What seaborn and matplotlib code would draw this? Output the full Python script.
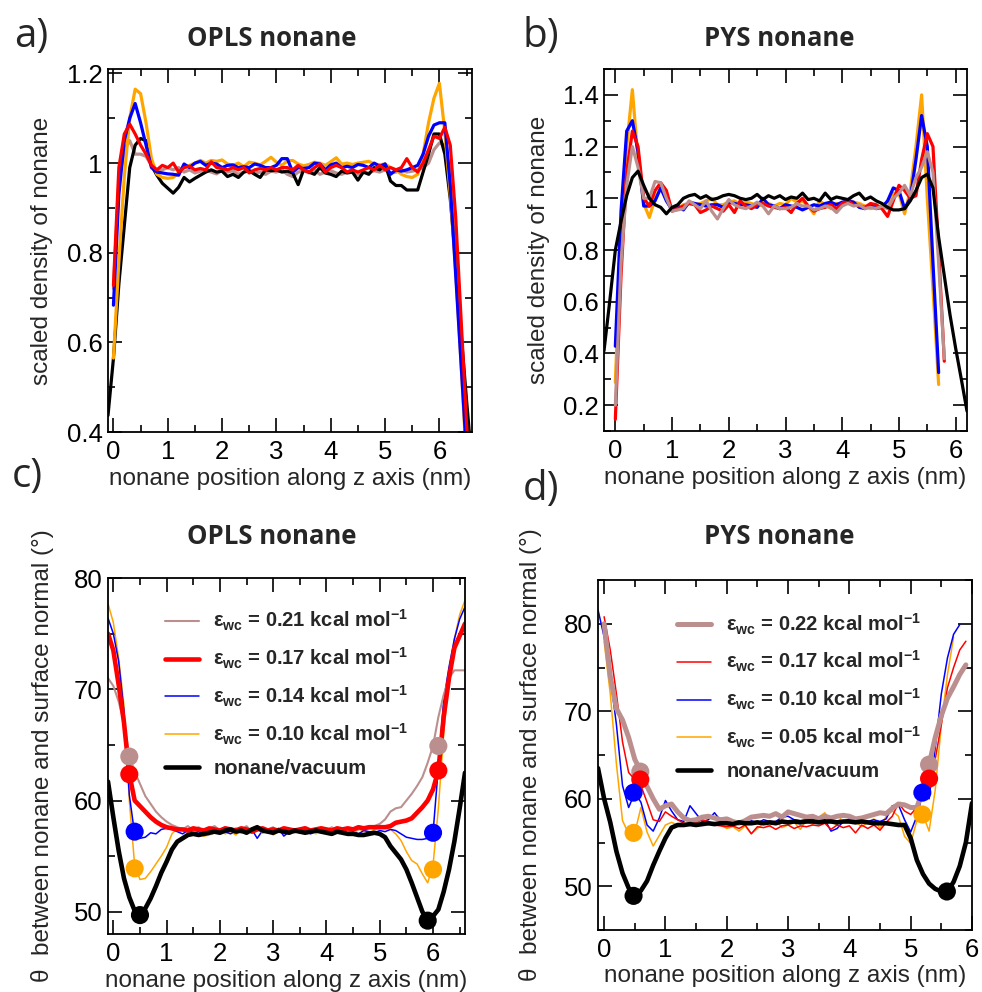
import numpy as np
import matplotlib
matplotlib.use("Agg")
import matplotlib.pyplot as plt
import seaborn as sns
from matplotlib.ticker import MultipleLocator, FuncFormatter
from matplotlib.lines import Line2D

# ---------------- data ----------------
# Panel a: OPLS nonane density
xa = np.round(np.arange(0.0, 6.65, 0.1), 2)
xa_black = np.round(np.arange(-0.1, 6.65, 0.1), 2)
a_orange = [0.565, 0.78, 0.97, 1.10, 1.165, 1.155, 1.09, 1.01, 0.975, 0.968, 0.966, 0.968, 0.978, 0.99, 0.995,
            1.0, 1.006, 1.0, 1.006, 1.004, 1.007, 0.998, 0.995, 1.0, 0.992, 1.002, 1.0, 0.996, 1.004, 1.013,
            1.002, 0.995, 1.005, 1.006, 0.998, 0.994, 0.997, 1.002, 1.0, 0.995, 1.003, 1.012, 0.998, 1.0, 0.997,
            1.0, 1.002, 1.004, 0.998, 0.996, 0.998, 0.99, 0.985, 0.975, 0.97, 0.968, 0.975, 1.02, 1.09, 1.145,
            1.178, 1.07, 0.93, 0.76, 0.55, 0.33, 0.2]
a_blue = [0.683, 0.93, 1.05, 1.10, 1.133, 1.09, 1.04, 0.99, 0.98, 0.978, 0.976, 0.975, 0.973, 0.998, 0.99,
          1.0, 1.004, 0.995, 1.0, 0.998, 0.99, 0.995, 0.996, 0.99, 0.992, 0.99, 0.998, 0.995, 0.99, 0.99,
          0.995, 1.01, 1.01, 0.98, 0.99, 0.988, 0.99, 1.0, 0.998, 0.985, 0.996, 1.0, 0.99, 0.993, 0.99,
          0.997, 0.995, 0.99, 1.0, 0.993, 0.998, 0.975, 0.985, 0.982, 0.985, 0.99, 0.995, 1.02, 1.06, 1.085,
          1.09, 1.09, 0.95, 0.75, 0.55, 0.35, 0.2]
a_red = [0.727, 0.99, 1.065, 1.087, 1.065, 1.04, 1.02, 0.995, 0.985, 0.995, 0.99, 1.0, 0.98, 0.99, 0.993,
         0.985, 0.988, 0.985, 1.003, 0.99, 0.988, 0.985, 0.99, 0.985, 0.99, 0.978, 0.985, 0.988, 0.985, 0.99,
         0.985, 0.99, 0.99, 0.985, 0.995, 0.985, 0.98, 0.99, 0.998, 0.98, 0.99, 0.995, 0.99, 0.98, 0.985,
         0.98, 0.985, 0.99, 0.985, 0.995, 0.985, 0.99, 0.985, 0.99, 1.01, 0.99, 0.98, 1.0, 1.03, 1.06,
         1.055, 1.08, 1.04, 0.88, 0.65, 0.42, 0.2]
a_rosy = [0.72, 0.96, 1.03, 1.05, 1.02, 1.02, 1.015, 0.995, 0.985, 0.985, 0.99, 0.985, 0.99, 0.98, 0.985,
          0.978, 0.982, 0.985, 0.98, 0.976, 0.985, 0.98, 0.983, 0.975, 0.98, 0.985, 0.978, 0.98, 0.975, 0.982,
          0.98, 0.985, 0.975, 0.97, 0.98, 0.983, 0.978, 0.985, 0.975, 0.98, 0.983, 0.978, 0.975, 0.98, 0.985,
          0.975, 0.98, 0.978, 0.983, 0.98, 0.985, 0.978, 0.98, 0.985, 0.98, 0.982, 0.985, 0.99, 1.0, 1.03,
          1.045, 1.04, 0.98, 0.85, 0.62, 0.4, 0.2]
a_black = [0.437, 0.564, 0.73, 0.86, 0.99, 1.04, 1.055, 1.05, 0.995, 0.973, 0.955, 0.944, 0.933, 0.946, 0.968,
           0.958, 0.966, 0.973, 0.98, 0.985, 0.98, 0.982, 0.97, 0.975, 0.968, 0.98, 0.983, 0.975, 0.968, 0.985,
           0.983, 0.985, 0.98, 0.982, 0.978, 0.952, 0.985, 0.98, 0.975, 0.99, 0.978, 0.975, 0.97, 0.982, 0.978,
           0.98, 0.962, 0.98, 0.975, 0.99, 0.985, 0.998, 0.96, 0.95, 0.95, 0.94, 0.94, 0.94, 0.98, 1.02,
           1.065, 1.065, 1.02, 0.92, 0.78, 0.62, 0.47, 0.33]

# Panel b: PYS nonane density
xb57 = np.round(np.arange(0.0, 5.75, 0.1), 2)
xb58 = np.round(np.arange(0.0, 5.85, 0.1), 2)
xb_black = np.round(np.arange(-0.2, 6.25, 0.1), 2)
b_orange = [0.288, 0.85, 1.2, 1.42, 1.15, 0.98, 0.926, 1.0, 1.04, 1.0, 0.955, 0.96, 0.975, 0.98, 0.975,
            0.98, 0.99, 1.0, 0.975, 0.975, 0.985, 0.99, 0.975, 0.985, 0.98, 0.97, 0.975, 0.98, 0.97, 0.98,
            0.975, 1.0, 0.985, 0.99, 0.97, 0.94, 0.99, 0.975, 0.96, 0.98, 0.975, 0.995, 0.985, 0.98, 0.97,
            0.96, 0.965, 0.97, 0.96, 1.02, 1.02, 0.94, 1.03, 1.2, 1.40, 1.0, 0.65, 0.28]
b_blue = [0.428, 0.95, 1.26, 1.30, 1.18, 0.97, 0.97, 0.99, 1.04, 0.99, 0.955, 0.97, 0.955, 0.985, 0.98,
          0.975, 0.97, 0.975, 0.975, 0.965, 0.985, 0.98, 0.975, 0.975, 0.97, 0.965, 1.0, 0.975, 0.97, 0.96,
          0.975, 0.97, 0.965, 0.955, 0.965, 0.975, 0.97, 0.98, 0.985, 0.975, 0.985, 0.99, 0.985, 0.965, 0.96,
          0.975, 0.96, 0.965, 0.99, 1.04, 1.03, 0.96, 1.0, 1.15, 1.32, 1.2, 0.75, 0.326]
b_red = [0.145, 0.7, 1.1, 1.26, 1.2, 1.0, 0.97, 1.03, 1.06, 1.03, 0.95, 0.96, 0.97, 0.98, 0.975,
         0.945, 0.955, 0.97, 0.96, 0.95, 0.975, 0.945, 0.99, 0.97, 0.96, 0.975, 0.98, 0.97, 0.965, 0.96,
         0.965, 0.945, 0.98, 1.0, 0.97, 0.95, 0.96, 0.965, 0.975, 0.96, 0.98, 0.99, 0.975, 0.97, 0.965,
         0.98, 0.975, 0.96, 0.93, 0.99, 1.05, 1.03, 1.0, 1.01, 1.15, 1.25, 1.2, 0.8, 0.37]
b_rosy = [0.2, 0.75, 1.05, 1.2, 1.12, 1.0, 1.0, 1.065, 1.06, 1.0, 0.95, 0.955, 0.96, 0.99, 0.975,
          0.96, 0.99, 0.95, 0.92, 0.96, 0.995, 0.975, 0.965, 0.96, 0.97, 0.985, 0.97, 0.94, 0.97, 0.96,
          0.96, 0.965, 0.98, 0.97, 0.97, 0.955, 0.96, 0.97, 0.965, 0.945, 0.97, 0.98, 0.97, 0.975, 0.96,
          0.965, 0.96, 0.97, 0.96, 1.0, 1.02, 1.05, 1.01, 1.08, 1.12, 1.18, 1.1, 0.75, 0.38]
b_black = [0.41, 0.6, 0.80, 0.91, 1.01, 1.08, 1.105, 1.05, 1.0, 0.975, 0.965, 0.94, 0.965, 0.975, 1.0,
           1.01, 1.015, 1.0, 1.01, 0.995, 1.0, 1.01, 1.015, 1.01, 1.0, 0.995, 1.0, 1.015, 0.995, 1.01,
           1.0, 1.01, 0.995, 1.005, 1.0, 1.02, 0.995, 1.0, 0.99, 1.02, 0.995, 1.005, 1.0, 0.995, 1.01,
           1.02, 0.995, 1.005, 0.99, 0.98, 0.965, 0.955, 0.955, 0.96, 0.99, 1.03, 1.08, 1.093, 1.04, 0.85,
           0.7, 0.55, 0.42, 0.3, 0.177]

# Panel c: OPLS nonane orientation
xc = np.round(np.arange(-0.1, 6.65, 0.1), 2)
c_black = [61.7, 58.5, 55.5, 53.0, 51.3, 50.1, 49.7, 50.3, 51.2, 52.3, 53.5, 54.5, 55.6, 56.3, 56.6,
           56.9, 57.0, 56.9, 57.0, 57.1, 57.2, 57.1, 57.3, 57.4, 57.2, 57.3, 57.1, 57.4, 57.6, 57.3,
           57.2, 57.1, 57.3, 57.2, 57.1, 57.3, 57.2, 57.1, 57.2, 57.3, 57.2, 57.1, 57.0, 57.2, 57.1,
           57.0, 57.0, 56.9, 56.9, 57.0, 57.1, 57.0, 56.7, 55.9, 55.3, 54.7, 53.8, 52.6, 51.3, 50.0,
           49.2, 49.6, 50.2, 51.8, 53.8, 56.3, 59.3, 62.5]
c_orange = [77.7, 76.0, 72.8, 68.5, 60.0, 54.2, 52.9, 53.0, 53.6, 54.3, 55.0, 55.8, 57.0, 57.5, 57.4,
            57.3, 57.2, 57.0, 56.8, 56.9, 57.1, 57.3, 57.0, 57.2, 56.9, 57.4, 57.1, 57.3, 57.5, 57.1,
            57.2, 56.9, 57.3, 57.4, 57.0, 57.2, 57.5, 57.1, 57.3, 57.0, 57.6, 57.2, 57.4, 57.1, 57.3,
            57.5, 57.2, 57.4, 57.3, 57.1, 57.4, 57.5, 57.5, 57.4, 57.0, 56.4, 55.4, 54.6, 54.3, 53.4,
            52.6, 54.2, 59.3, 66.0, 71.3, 74.5, 76.7, 78.0]
c_blue = [76.4, 75.0, 72.5, 68.0, 60.5, 57.0, 56.6, 56.7, 57.1, 57.0, 57.4, 57.5, 57.4, 57.2, 57.0,
          57.3, 57.1, 57.2, 57.0, 57.3, 57.1, 57.4, 57.2, 57.0, 57.3, 57.1, 57.2, 57.4, 56.6, 57.3,
          57.2, 57.0, 57.5, 56.8, 57.2, 57.4, 57.1, 57.3, 57.0, 57.2, 57.4, 57.1, 57.3, 57.2, 57.1,
          57.4, 57.2, 57.0, 57.3, 57.2, 57.1, 57.3, 57.2, 57.4, 57.3, 57.0, 56.7, 56.6, 56.5, 56.5,
          56.6, 57.1, 63.0, 69.0, 72.0, 74.5, 76.3, 77.4]
c_red = [75.0, 73.5, 70.4, 67.0, 62.4, 60.0, 59.5, 59.0, 58.5, 58.1, 57.8, 57.6, 57.5, 57.4, 57.4,
         57.3, 57.5, 57.4, 57.3, 57.5, 57.4, 57.3, 57.5, 57.4, 57.3, 57.5, 57.4, 57.2, 57.4, 57.5,
         57.3, 57.4, 57.3, 57.5, 57.4, 57.3, 57.4, 57.5, 57.3, 57.4, 57.5, 57.4, 57.3, 57.5, 57.4,
         57.5, 57.4, 57.6, 57.5, 57.6, 57.6, 57.6, 57.6, 57.7, 58.0, 58.1, 58.2, 58.4, 58.9, 59.4,
         60.0, 61.0, 62.7, 67.5, 71.0, 73.7, 74.8, 75.9]
c_rosy = [71.0, 70.3, 68.9, 67.0, 64.0, 62.6, 61.5, 60.4, 59.7, 59.0, 58.5, 58.1, 57.8, 57.6, 57.4,
          57.7, 57.3, 57.6, 57.2, 57.5, 57.7, 57.3, 57.6, 57.2, 57.5, 57.3, 57.7, 57.2, 57.5, 57.1,
          57.4, 57.6, 57.2, 57.5, 57.3, 57.1, 57.4, 57.6, 57.3, 57.2, 57.5, 57.3, 57.6, 57.2, 57.4,
          57.3, 57.1, 57.4, 57.6, 57.5, 57.7, 57.9, 58.3, 59.0, 59.3, 59.4, 60.0, 60.6, 61.3, 62.1,
          63.4, 64.9, 67.5, 69.5, 71.0, 71.7, 71.7, 71.7]
c_marker_x = [0.3, 6.1, 0.3, 6.1, 0.4, 6.0, 0.4, 6.0, 0.5, 5.9]
c_marker_y = [63.95, 64.9, 62.36, 62.7, 57.2, 57.1, 53.9, 53.8, 49.7, 49.2]

# Panel d: PYS nonane orientation
xd_black = np.round(np.arange(-0.1, 6.05, 0.1), 2)
xd_blue = np.round(np.arange(-0.1, 5.85, 0.1), 2)
xd_orange = np.round(np.arange(0.0, 5.75, 0.1), 2)
xd59 = np.round(np.arange(0.0, 5.95, 0.1), 2)
d_black = [63.5, 60.0, 57.3, 54.0, 51.5, 49.8, 48.9, 49.5, 50.6, 52.4, 54.0, 55.5, 56.7, 57.0, 57.0,
           57.1, 57.0, 57.1, 57.2, 57.1, 57.2, 57.2, 57.1, 57.3, 57.2, 57.2, 57.3, 57.2, 57.3, 57.2,
           57.4, 57.3, 57.4, 57.3, 57.4, 57.4, 57.3, 57.4, 57.4, 57.3, 57.4, 57.4, 57.3, 57.4, 57.3,
           57.2, 57.2, 57.2, 57.1, 57.0, 57.0, 55.5, 53.0, 51.4, 50.3, 49.7, 49.4, 49.4, 50.5, 52.3,
           55.0, 59.5]
d_orange = [78.0, 72.0, 64.0, 57.5, 56.0, 56.1, 59.0, 56.2, 54.6, 55.8, 57.0, 57.3, 57.0, 57.2, 57.0,
            57.3, 57.4, 57.0, 57.3, 57.0, 56.6, 56.8, 56.3, 56.9, 56.0, 56.6, 57.2, 56.9, 57.5, 56.7,
            57.0, 57.3, 56.5, 57.6, 57.0, 57.9, 58.4, 57.4, 57.0, 58.3, 58.0, 57.4, 56.8, 57.3, 57.7,
            56.6, 58.0, 58.6, 58.0, 55.7, 54.9, 57.5, 58.2, 56.3, 61.0, 68.5, 74.2, 78.5]
d_blue = [81.6, 78.5, 74.0, 68.5, 61.5, 59.0, 60.7, 59.6, 57.0, 56.3, 57.8, 59.8, 58.6, 57.6, 57.4,
          59.2, 58.3, 57.4, 57.6, 58.4, 57.5, 57.7, 57.3, 57.3, 57.0, 57.5, 57.2, 57.6, 57.4, 57.4,
          57.9, 58.0, 57.6, 57.5, 57.6, 57.7, 57.5, 57.6, 56.3, 56.6, 57.4, 57.7, 57.8, 57.3, 57.4,
          57.6, 57.4, 57.7, 59.2, 59.3, 57.6, 56.2, 58.0, 60.7, 60.0, 65.8, 72.0, 76.1, 78.8, 79.9]
d_red = [80.8, 77.0, 72.0, 66.5, 63.0, 62.2, 61.5, 59.6, 57.6, 57.4, 58.5, 58.0, 57.6, 57.2, 57.0,
         57.3, 57.6, 57.4, 57.0, 56.9, 56.8, 56.9, 56.6, 57.0, 56.0, 56.8, 56.7, 56.9, 56.5, 56.9,
         57.0, 56.6, 56.9, 56.8, 57.0, 56.9, 57.2, 56.5, 57.0, 56.7, 56.9, 56.1, 57.0, 56.6, 57.0,
         56.4, 57.3, 58.0, 59.5, 58.6, 58.2, 59.0, 61.0, 62.3, 64.5, 68.5, 72.7, 75.0, 77.0, 78.0]
d_rosy = [80.0, 74.0, 70.3, 69.0, 67.0, 64.5, 63.1, 61.4, 60.0, 58.8, 59.2, 59.4, 58.5, 57.8, 57.5,
          57.6, 57.9, 58.0, 57.8, 57.6, 57.7, 57.4, 57.2, 57.5, 57.9, 58.0, 58.1, 58.0, 58.3, 57.9,
          58.5, 58.3, 58.1, 57.9, 58.0, 57.7, 58.0, 57.8, 58.0, 58.1, 58.0, 57.7, 57.8, 58.0, 58.2,
          58.4, 58.3, 58.9, 59.4, 59.3, 59.0, 59.0, 61.0, 63.9, 67.0, 69.5, 71.5, 72.8, 74.2, 75.3]
d_marker_x = [0.59, 5.3, 0.59, 5.3, 0.48, 5.19, 0.48, 5.19, 0.48, 5.59]
d_marker_y = [63.1, 63.9, 62.2, 62.3, 60.7, 60.7, 56.1, 58.2, 48.9, 49.4]
marker_colors = ["rosybrown", "rosybrown", "red", "red", "blue", "blue", "orange", "orange", "black", "black"]

labels_c = ["0.21", "0.17", "0.14", "0.10"]
labels_d = ["0.22", "0.17", "0.10", "0.05"]

# ---------------- style ----------------
sns.set_style("ticks")
plt.rcParams["font.family"] = ["Liberation Sans", "DejaVu Sans"]
plt.rcParams["mathtext.fontset"] = "custom"
plt.rcParams["mathtext.rm"] = "Liberation Sans"
plt.rcParams["mathtext.bf"] = "Liberation Sans:bold"
plt.rcParams["mathtext.it"] = "Liberation Sans:italic"

W, H = 982, 992
fig = plt.figure(figsize=(W / 100, H / 100), dpi=100)


def px_axes(l, t, r, b):
    return fig.add_axes([l / W, 1 - b / H, (r - l) / W, (b - t) / H])


axa = px_axes(108, 69, 472, 432)
axb = px_axes(604, 69, 967, 431)
axc = px_axes(108, 578, 465, 934)
axd = px_axes(598, 580, 972, 930)

TICK_FS = 18.5
LAB_FS = 17.5


def style(ax, xlim, ylim, ymaj, ymin_):
    ax.set_xlim(*xlim)
    ax.set_ylim(*ylim)
    ax.xaxis.set_major_locator(MultipleLocator(1))
    ax.xaxis.set_minor_locator(MultipleLocator(0.5))
    ax.yaxis.set_major_locator(MultipleLocator(ymaj))
    ax.yaxis.set_minor_locator(MultipleLocator(ymin_))
    ax.yaxis.set_major_formatter(FuncFormatter(lambda v, p: f"{v:g}"))
    ax.tick_params(which="both", direction="in", top=True, right=True, width=1.2, colors="black")
    ax.tick_params(which="major", length=10)
    ax.tick_params(which="minor", length=5)
    ax.tick_params(axis="x", which="major", labelsize=TICK_FS, pad=6)
    ax.tick_params(axis="y", which="major", labelsize=TICK_FS, pad=4)
    for s in ax.spines.values():
        s.set_linewidth(1.3)
        s.set_color("black")
        s.set_visible(True)
    ax.set_xlabel("nonane position along z axis (nm)", fontsize=LAB_FS)
    ax.xaxis.set_label_coords(0.5, -0.10)
    ax.xaxis.label.set_va("top")


def line(ax, x, y, color, lw):
    sns.lineplot(x=x, y=y, color=color, linewidth=lw, ax=ax, legend=False)


# panel a
LW = 2.3
line(axa, xa, a_rosy, "rosybrown", LW)
line(axa, xa_black, a_black, "black", LW)
line(axa, xa, a_orange, "orange", LW)
line(axa, xa, a_blue, "blue", LW)
line(axa, xa, a_red, "red", LW)
style(axa, (-0.1, 6.6), (0.4, 1.21), 0.2, 0.1)
axa.set_ylabel("scaled density of nonane", fontsize=LAB_FS)
axa.yaxis.set_label_coords(-0.15, 0.5)

# panel b
line(axb, xb57, b_orange, "orange", LW)
line(axb, xb57, b_blue, "blue", LW)
line(axb, xb58, b_red, "red", LW)
line(axb, xb58, b_rosy, "rosybrown", LW)
line(axb, xb_black, b_black, "black", LW)
style(axb, (-0.2, 6.2), (0.1, 1.5), 0.2, 0.1)
axb.set_ylabel("scaled density of nonane", fontsize=LAB_FS)
axb.yaxis.set_label_coords(-0.15, 0.5)

# panel c
THIN, THICK = 1.1, 3.3
line(axc, xc, c_orange, "orange", THIN)
line(axc, xc, c_blue, "blue", THIN)
line(axc, xc, c_rosy, "rosybrown", 1.5)
line(axc, xc, c_red, "red", THICK)
line(axc, xc, c_black, "black", THICK)
sns.scatterplot(x=c_marker_x, y=c_marker_y, hue=list(range(10)), palette=marker_colors, s=170,
                edgecolor="none", ax=axc, legend=False, zorder=10)
style(axc, (-0.1, 6.6), (48, 80), 10, 5)
axc.set_ylabel("θ  between nonane and surface normal (°)", fontsize=LAB_FS)
axc.yaxis.set_label_coords(-0.15, 0.5)

# panel d
line(axd, xd_orange, d_orange, "orange", THIN)
line(axd, xd_blue, d_blue, "blue", THIN)
line(axd, xd59, d_red, "red", THIN)
line(axd, xd59, d_rosy, "rosybrown", 3.6)
line(axd, xd_black, d_black, "black", THICK)
sns.scatterplot(x=d_marker_x, y=d_marker_y, hue=list(range(10)), palette=marker_colors, s=170,
                edgecolor="none", ax=axd, legend=False, zorder=10)
style(axd, (-0.1, 6.0), (45, 85), 10, 5)
axd.set_ylabel("θ  between nonane and surface normal (°)", fontsize=LAB_FS)
axd.yaxis.set_label_coords(-0.15, 0.5)


# legends
def eps_label(v):
    return "ε$_{\\mathbf{wc}}$ = " + v + " kcal mol$^{\\mathbf{-1}}$"


hc = [Line2D([], [], color="rosybrown", lw=1.5), Line2D([], [], color="red", lw=THICK),
      Line2D([], [], color="blue", lw=THIN), Line2D([], [], color="orange", lw=THIN),
      Line2D([], [], color="black", lw=THICK)]
lc = [eps_label(v) for v in labels_c] + ["nonane/vacuum"]
axc.legend(hc, lc, loc="upper left", bbox_to_anchor=(0.16, 0.915), frameon=False,
           prop={"weight": "bold", "size": 14.5}, handlelength=1.7, handletextpad=0.7,
           labelspacing=0.62, borderpad=0, borderaxespad=0)

hd = [Line2D([], [], color="rosybrown", lw=3.6), Line2D([], [], color="red", lw=THIN),
      Line2D([], [], color="blue", lw=THIN), Line2D([], [], color="orange", lw=THIN),
      Line2D([], [], color="black", lw=THICK)]
ld = [eps_label(v) for v in labels_d] + ["nonane/vacuum"]
axd.legend(hd, ld, loc="upper left", bbox_to_anchor=(0.211, 0.91), frameon=False,
           prop={"weight": "bold", "size": 14.5}, handlelength=1.7, handletextpad=0.75,
           labelspacing=0.62, borderpad=0, borderaxespad=0)

# titles and panel labels
TFS = 18.5
for (x, y, t) in [(272, 38, "OPLS nonane"), (779, 38, "PYS nonane"),
                  (272, 537, "OPLS nonane"), (779, 536, "PYS nonane")]:
    fig.text(x / W, 1 - y / H, t, ha="center", va="center", fontsize=TFS, fontweight="bold",
             family=["Open Sans", "DejaVu Sans"])
for (x, y, t) in [(14, 37, "a)"), (12, 477, "c)"), (523, 37, "b)"), (523, 490, "d)")]:
    fig.text(x / W, 1 - y / H, t, ha="left", va="center", fontsize=29,
             family=["Open Sans", "DejaVu Sans"])

fig.savefig("out.png", dpi=100)
